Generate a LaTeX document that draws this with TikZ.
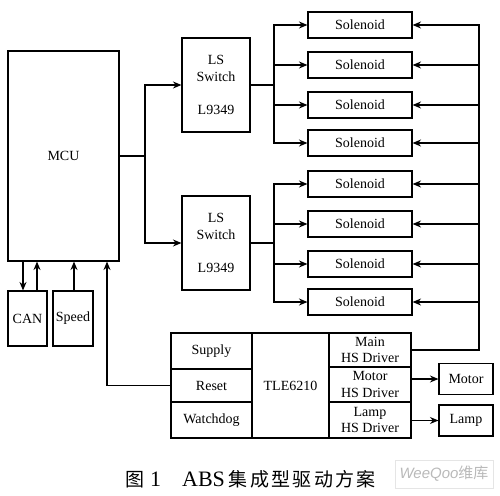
\documentclass[tikz,border=0pt]{standalone}
\usepackage{fontspec}
\setmainfont{Liberation Serif}
\newfontfamily\cjk{Noto Sans CJK SC}
\newfontfamily\wmfont{Liberation Sans}
\usetikzlibrary{arrows.meta}
\newcommand{\fs}{\fontsize{14}{16.5}\selectfont}
\begin{document}
\begin{tikzpicture}[x=1pt,y=-1pt,
  box/.style={draw, line width=1.1pt, inner sep=0pt, align=center, font=\fs},
  sol/.style={box, minimum width=104pt, minimum height=26pt},
  ln/.style={line width=1.1pt},
  arr/.style={ln, -{Stealth[length=8.5pt,width=7pt]}}]
\useasboundingbox (0,0) rectangle (500,495);
% MCU and peripherals
\node[box, minimum width=111pt, minimum height=210pt] (mcu) at (63.5,156) {MCU};
\node[box, minimum width=39pt, minimum height=55pt] (can) at (27.5,318.5) {CAN};
\node[box, minimum width=40pt, minimum height=55pt] (speed) at (73,318.5) {Speed};
% LS switches
\node[box, minimum width=68pt, minimum height=94pt] (ls1) at (216,85) {LS\\Switch\\[17pt]L9349};
\node[box, minimum width=68pt, minimum height=94pt] (ls2) at (216,243) {LS\\Switch\\[17pt]L9349};
% Solenoids
\node[sol] (s1) at (360,25) {Solenoid};
\node[sol] (s2) at (360,65) {Solenoid};
\node[sol] (s3) at (360,105) {Solenoid};
\node[sol] (s4) at (360,143) {Solenoid};
\node[sol] (s5) at (360,184) {Solenoid};
\node[sol] (s6) at (360,224) {Solenoid};
\node[sol] (s7) at (360,264) {Solenoid};
\node[sol] (s8) at (360,302) {Solenoid};
% TLE6210 block
\node[box, minimum width=81pt, minimum height=36pt] (supply) at (211.5,351) {Supply};
\node[box, minimum width=81pt, minimum height=33pt] (reset) at (211.5,385.5) {Reset};
\node[box, minimum width=81pt, minimum height=36pt] (watchdog) at (211.5,420) {Watchdog};
\node[box, minimum width=77pt, minimum height=105pt] (tle) at (290.5,385.5) {TLE6210};
\node[box, minimum width=82pt, minimum height=34pt] (main) at (370,350) {Main\\HS Driver};
\node[box, minimum width=82pt, minimum height=35pt] (motord) at (370,384.5) {Motor\\HS Driver};
\node[box, minimum width=82pt, minimum height=36pt] (lampd) at (370,420) {Lamp\\HS Driver};
\node[box, minimum width=54pt, minimum height=31pt] (motor) at (466,379) {Motor};
\node[box, minimum width=54pt, minimum height=31pt] (lamp) at (466,420.5) {Lamp};
% connectors MCU -> LS
\draw[ln] (mcu.east) -- (145,156) coordinate (j1);
\draw[arr] (j1) |- (ls1.west);
\draw[arr] (j1) |- (ls2.west);
% LS -> solenoids
\draw[ln] (ls1.east) -- (274,85) coordinate (b1);
\foreach \s in {s1,s2,s3,s4} \draw[arr] (b1) |- (\s.west);
\draw[ln] (ls2.east) -- (274,243) coordinate (b2);
\foreach \s in {s5,s6,s7,s8} \draw[arr] (b2) |- (\s.west);
% main HS driver -> solenoids
\coordinate (rb) at (479,0);
\draw[arr] (main.east) -| (rb |- s1.east) -- (s1.east);
\foreach \s in {s2,s3,s4,s5,s6,s7,s8} \draw[arr] (rb |- \s.east) -- (\s.east);
% drivers -> loads
\draw[arr] (motor.west -| motord.east) -- (motor.west);
\draw[arr] (lamp.west -| lampd.east) -- (lamp.west);
% CAN, Speed, Reset -> MCU
\draw[arr] ([xshift=-4.5pt]can.north |- mcu.south) -- ([xshift=-4.5pt]can.north);
\draw[arr] ([xshift=9.5pt]can.north) -- ([xshift=9.5pt]can.north |- mcu.south);
\draw[arr] ([xshift=1pt]speed.north) -- ([xshift=1pt]speed.north |- mcu.south);
\draw[arr] (reset.west) -| ([xshift=43.5pt]mcu.south);
% caption
\node[anchor=west, inner sep=0pt] (cap) at (125,479) {{\cjk\fontsize{19}{20}\selectfont 图}\hspace{6pt}{\fontsize{22}{24}\selectfont 1}\hspace{21pt}{\fontsize{22}{24}\selectfont ABS}\hspace{4pt}{\cjk\fontsize{19}{20}\selectfont 集\hspace{2.3pt}成\hspace{2.3pt}型\hspace{2.3pt}驱\hspace{2.3pt}动\hspace{2.3pt}方\hspace{2.3pt}案}};
% watermark
\node[draw=gray!20, line width=0.8pt, minimum width=98pt, minimum height=28pt, inner sep=0pt] (wm) at (444,474) {\color{gray!55}\wmfont\itshape\fontsize{15}{16}\selectfont WeeQoo{\cjk 维库}};
\end{tikzpicture}
\end{document}
